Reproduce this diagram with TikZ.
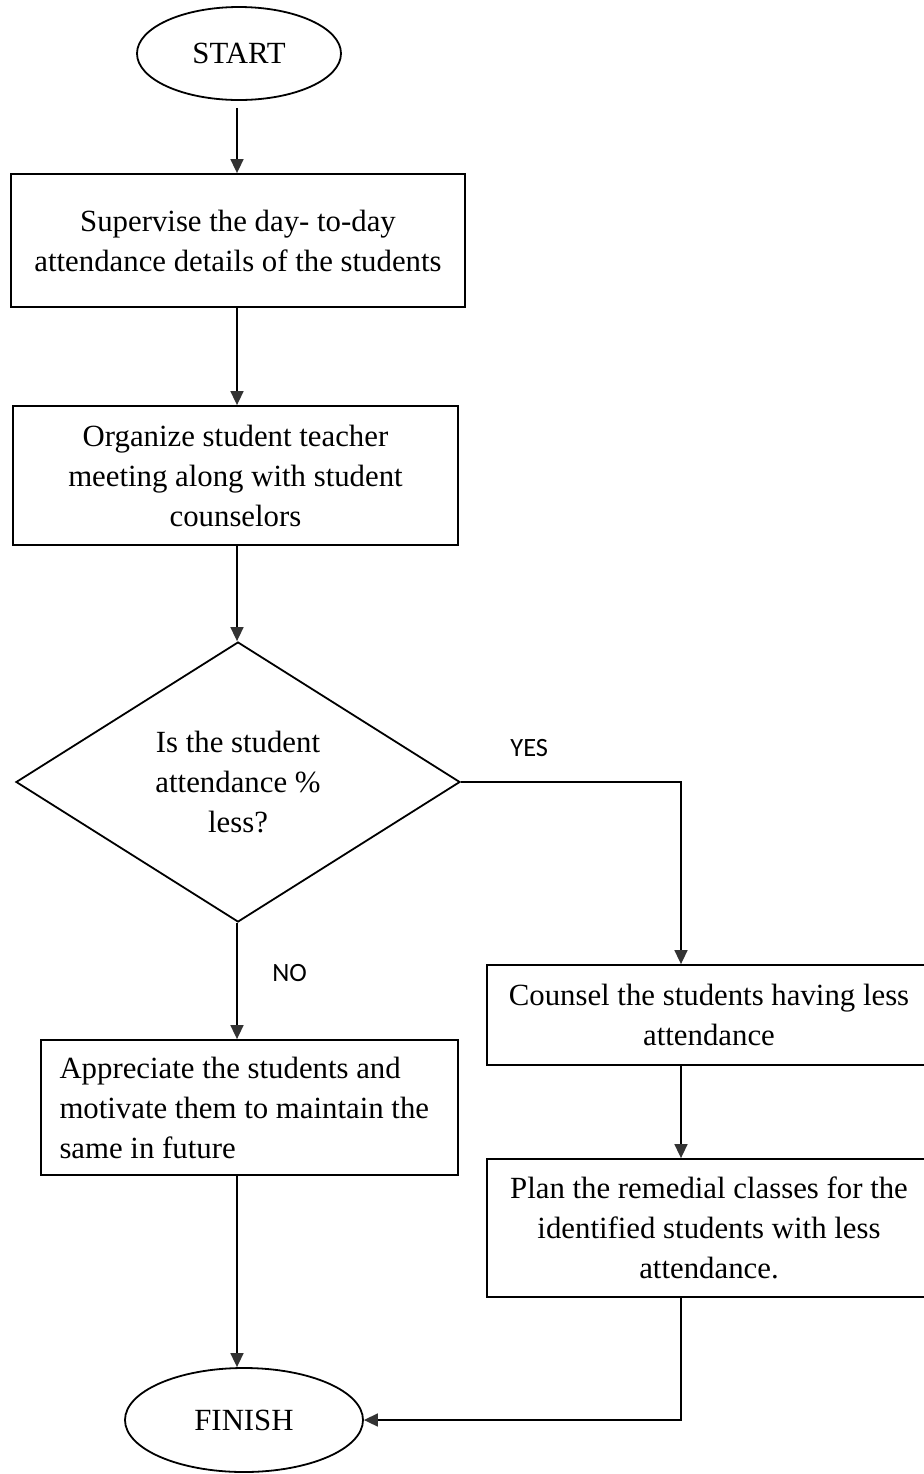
\documentclass[tikz,border=0pt]{standalone}
\usepackage{fontspec}
\setmainfont{Liberation Serif}
\newfontfamily\labelfont{Carlito}
\usepackage{tikz}
\usetikzlibrary{arrows.meta,positioning,shapes.geometric}
\tikzset{
  box/.style={draw=black, line width=0.9pt, align=center, inner sep=0pt, font=\fontsize{15.4}{20}\selectfont},
  leftbox/.style={draw=black, line width=0.9pt, align=flush left, inner xsep=9.25pt, inner ysep=0pt, text width=190pt, font=\fontsize{15.4}{20}\selectfont},
  terminal/.style={draw=black, line width=0.9pt, ellipse, inner sep=0pt, font=\fontsize{15.4}{20}\selectfont},
  decision/.style={draw=black, line width=0.9pt, diamond, shape aspect=1.586, inner sep=0pt, align=center, font=\fontsize{15.4}{20}\selectfont},
  arrow/.style={-{Triangle[length=7pt,width=6.5pt,color=black!80]}, line width=0.8pt}
}

\begin{document}
\begin{tikzpicture}[x=0.5pt, y=-0.5pt, lbl/.style={font=\labelfont\fontsize{13.2}{16}\selectfont}]
\useasboundingbox (0,0) rectangle (923,1474);
% columns of the connectors
\coordinate (lcol) at (237,0);
\coordinate (rcol) at (681,0);
% nodes
\node[terminal, minimum width=102pt, minimum height=46.5pt] (start) at (239,53.5) {START};
\node[box, minimum width=227pt, minimum height=66.5pt] (sup) at (238,240.5) {Supervise the day- to-day\\attendance details of the students};
\node[box, minimum width=222.5pt, minimum height=69.5pt] (org) at (235.5,475.5) {Organize student teacher\\meeting along with student\\counselors};
\node[decision, minimum width=222pt, minimum height=140pt] (dec) at (238,782) {Is the student\\attendance \%\\less?};
\node[leftbox, minimum height=67.5pt] (appr) at (249.5,1107.5) {Appreciate the students and\\motivate them to maintain the\\same in future};
\node[box, minimum width=222pt, minimum height=50pt] (counsel) at (709,1015) {Counsel the students having less\\attendance};
\node[box, minimum width=222pt, minimum height=69pt] (plan) at (709,1228) {Plan the remedial classes for the\\identified students with less\\attendance.};
\node[terminal, minimum width=119pt, minimum height=52pt] (finish) at (244,1420) {FINISH};
% connectors
\draw[arrow, shorten <=3.5pt] (lcol |- start.south) -- (lcol |- sup.north);
\draw[arrow] (lcol |- sup.south) -- (lcol |- org.north);
\draw[arrow] (lcol |- org.south) -- (lcol |- dec.north);
\draw[arrow] (dec.east) -| (rcol |- counsel.north);
\draw[arrow] (lcol |- dec.south) -- (lcol |- appr.north);
\draw[arrow] (rcol |- counsel.south) -- (rcol |- plan.north);
\draw[arrow] (lcol |- appr.south) -- (lcol |- finish.north);
\draw[arrow] (rcol |- plan.south) |- (finish.east);
% branch labels
\node[lbl, anchor=west, inner sep=0pt] (yes) at (510,748) {YES};
\node[lbl, anchor=west, inner sep=0pt] (no) at (272,973) {NO};
\end{tikzpicture}
\end{document}
